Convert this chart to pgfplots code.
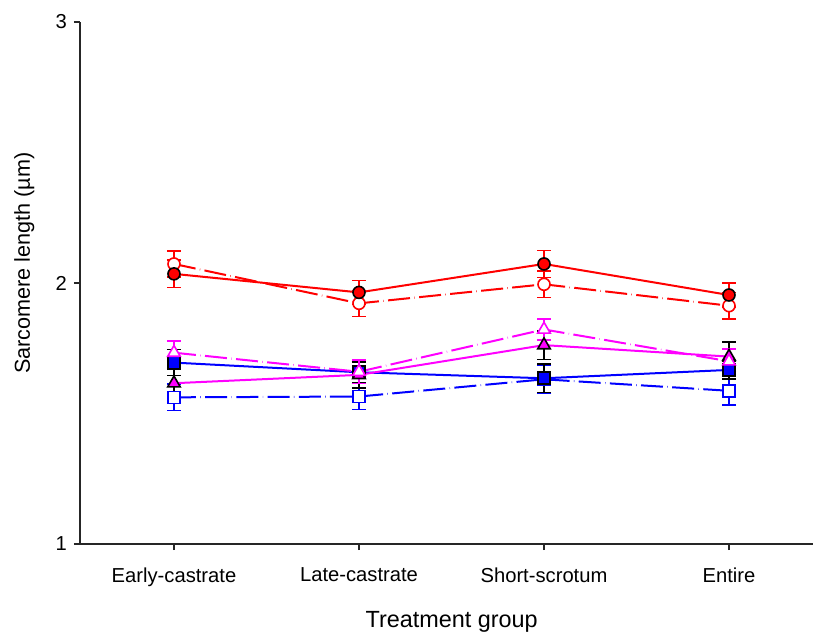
\documentclass[border=0pt]{standalone}
\usepackage{pgfplots}
\pgfplotsset{compat=1.18}
\usepackage{fontspec}
\setmainfont{Liberation Sans}
\definecolor{sred}{RGB}{255,0,0}
\definecolor{sblue}{RGB}{0,0,255}
\definecolor{smag}{RGB}{255,0,255}
\pgfplotstableread{
x y e
0 2.035 0.052
1 1.964 0.046
2 2.073 0.052
3 1.954 0.045
}\redfilled
\pgfplotstableread{
x y e
0 2.073 0.050
1 1.922 0.050
2 1.995 0.050
3 1.913 0.050
}\redopen
\pgfplotstableread{
x y e
0 1.695 0.050
1 1.658 0.040
2 1.635 0.055
3 1.667 0.035
}\bluefilled
\pgfplotstableread{
x y e
0 1.562 0.050
1 1.565 0.050
2 1.631 0.055
3 1.587 0.055
}\blueopen
\pgfplotstableread{
x y e
0 1.616 0.055
1 1.648 0.050
2 1.762 0.055
3 1.718 0.055
}\magfilled
\pgfplotstableread{
x y e
0 1.733 0.045
1 1.660 0.045
2 1.822 0.040
3 1.700 0.048
}\magopen
\begin{document}
\begin{tikzpicture}
\begin{axis}[
  at={(0,0)}, anchor=south west,
  scale only axis, width=366.5pt, height=261pt,
  xmin=-0.508, xmax=3.454, ymin=1, ymax=3,
  axis x line*=bottom, axis y line*=left,
  axis line style={line width=0.75pt, black!85},
  xtick={0,1,2,3},
  xticklabels={Early-castrate,Late-castrate,Short-scrotum,Entire},
  ytick={1,2,3}, yticklabels={1,2,3},
  tick align=outside, major tick length=3pt,
  tick style={line width=0.6pt, black!85},
  tick label style={font=\fontsize{10.1}{12}\selectfont},
  xticklabel style={yshift=-5.5pt},
  xlabel={Treatment group},
  ylabel={Sarcomere length (\textmu m)},
  xlabel style={font=\fontsize{11.7}{14}\selectfont, at={(axis description cs:0.507,-0.16)}, anchor=base},
  ylabel style={font=\fontsize{10.8}{13}\selectfont, at={(axis description cs:-0.076,0.538)}, anchor=center},
  clip=false,
  every axis plot/.append style={line width=1pt},
  error bars/y dir=both, error bars/y explicit,
  error bars/error mark options={rotate=90, mark size=3.5pt, line width=0.8pt},
]
\addplot[sred, dash pattern=on 11pt off 2.2pt on 0.2pt off 2.2pt, mark=*, mark size=3pt, mark options={solid, fill=white, draw=sred, line width=0.8pt},
  error bars/error bar style={sred, solid, line width=0.8pt}]
  table[x=x, y=y, y error=e] {\redopen};
\addplot[sred, mark=*, mark size=3pt, mark options={solid, fill=sred, draw=black, line width=0.8pt},
  error bars/error bar style={sred, solid, line width=0.8pt}]
  table[x=x, y=y, y error=e] {\redfilled};
\addplot[sblue, dash pattern=on 11pt off 2.2pt on 0.2pt off 2.2pt, mark=square*, mark size=3pt, mark options={solid, fill=white, draw=sblue, line width=0.8pt},
  error bars/error bar style={sblue, solid, line width=0.8pt}]
  table[x=x, y=y, y error=e] {\blueopen};
\addplot[sblue, mark=square*, mark size=3pt, mark options={solid, fill=sblue, draw=black, line width=0.8pt},
  error bars/error bar style={black, solid, line width=0.8pt}]
  table[x=x, y=y, y error=e] {\bluefilled};
\addplot[smag, mark=triangle*, mark size=3.6pt, mark options={solid, fill=smag, draw=black, line width=0.8pt},
  error bars/error bar style={black, solid, line width=0.8pt}]
  table[x=x, y=y, y error=e] {\magfilled};
\addplot[smag, dash pattern=on 11pt off 2.2pt on 0.2pt off 2.2pt, mark=triangle*, mark size=3.6pt, mark options={solid, fill=white, draw=smag, line width=0.8pt},
  error bars/error bar style={smag, solid, line width=0.8pt}]
  table[x=x, y=y, y error=e] {\magopen};
\end{axis}
\pgfresetboundingbox
\path[use as bounding box] (-40pt,-44pt) rectangle (366.5pt,272pt);
\end{tikzpicture}
\end{document}
